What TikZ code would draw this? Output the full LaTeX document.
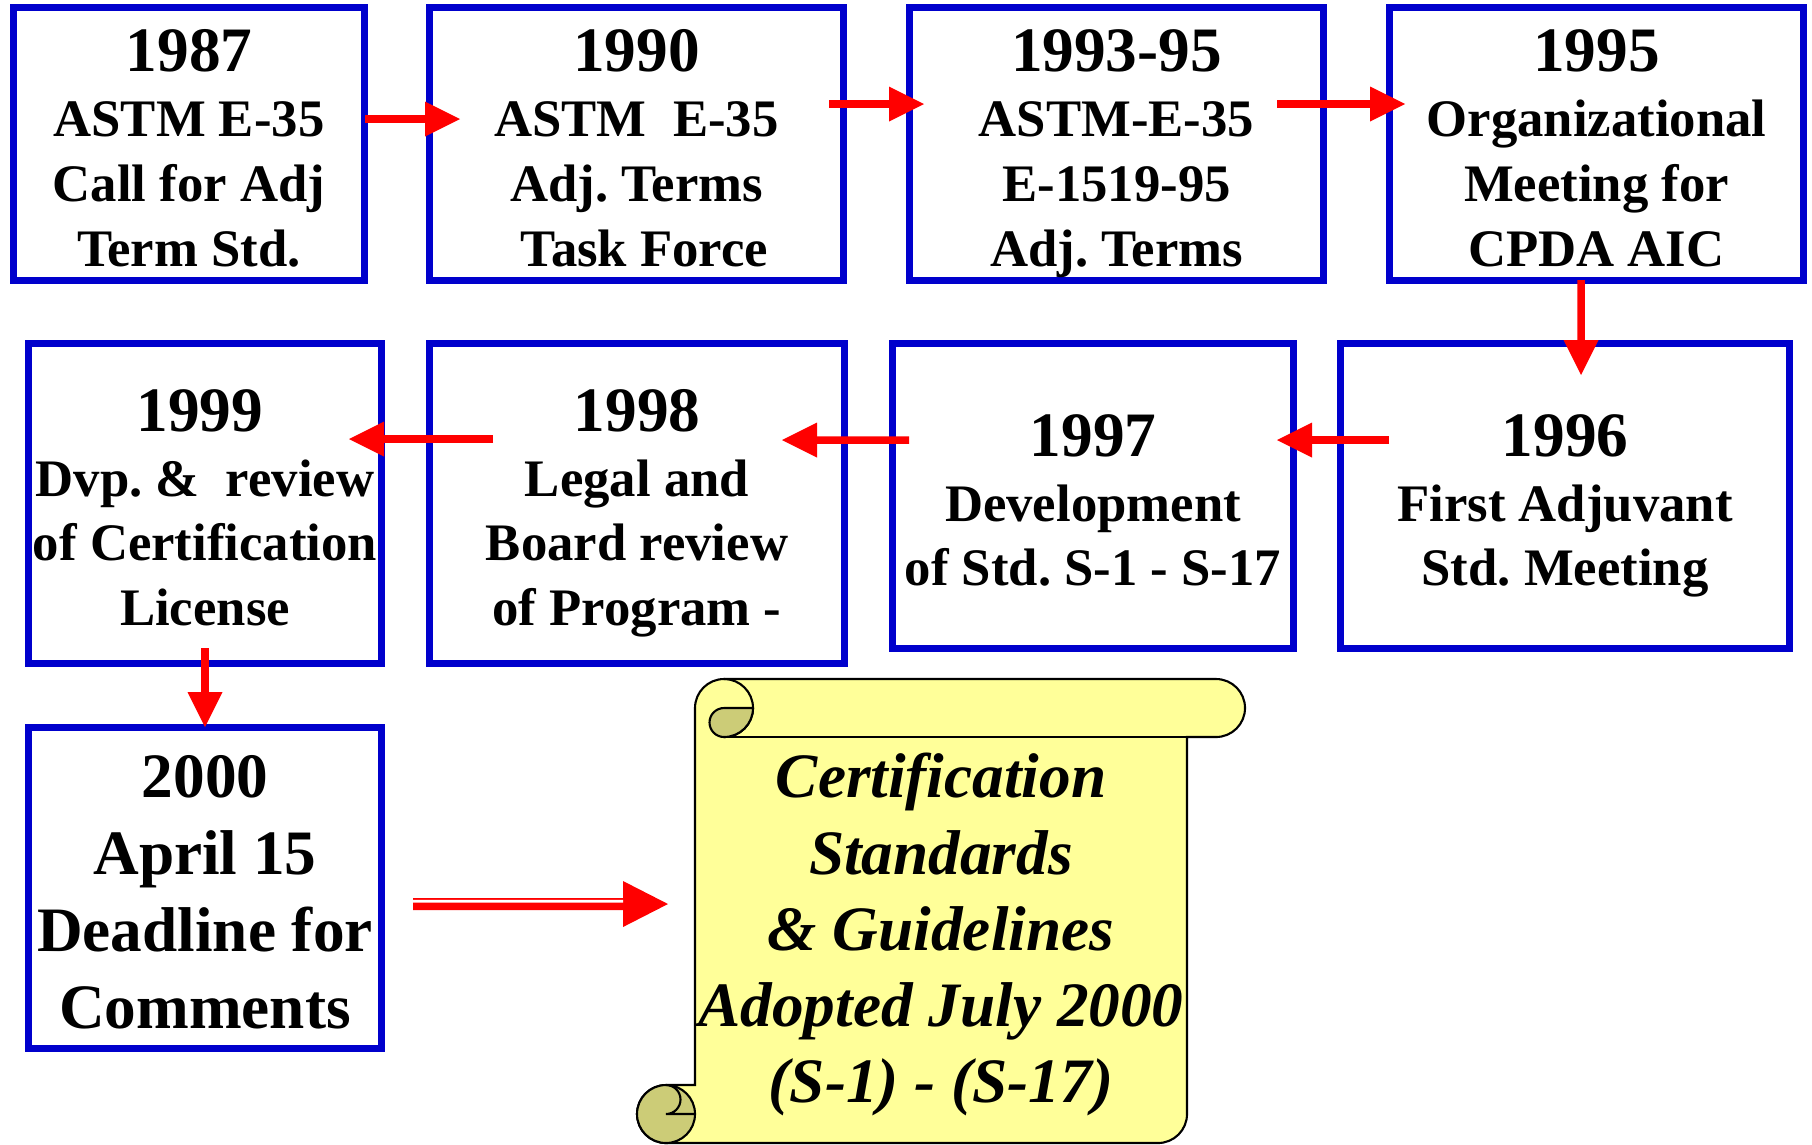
\documentclass[tikz,border=0pt]{standalone}
\usepackage{fontspec}
\setmainfont{Liberation Serif}
\usetikzlibrary{positioning,arrows.meta}

\definecolor{boxblue}{RGB}{0,0,204}
\definecolor{scrollyellow}{RGB}{255,255,153}
\definecolor{curlolive}{RGB}{204,204,119}

\newcommand{\yearfont}{\fontsize{18}{18.43}\selectfont\rule{0pt}{5mm}}
\frenchspacing

\tikzset{
  yearbox/.style={draw=boxblue, line width=0.7mm, align=center, inner sep=0pt, text depth=0pt,
    font=\bfseries\fontsize{15}{18.43}\selectfont},
  flow/.style={draw=red, line width=0.75mm, -{Triangle[length=3.5mm,width=3.5mm,line width=0pt]}},
  scrollpaper/.style={fill=scrollyellow, draw=black, line width=0.6pt},
  scrollcurl/.style={fill=curlolive, draw=black, line width=0.6pt}
}

\begin{document}
\begin{tikzpicture}[x=0.1mm, y=-0.1mm]
\def\ya{144}
\def\yb{503.5}
\def\yc{496}
\def\yd{888}

\useasboundingbox (0,0) rectangle (1812,1144);

\node[yearbox, minimum width=35.1mm, minimum height=27.3mm] (b1987) at (189,\ya)
  {{\yearfont 1987}\\ASTM E-35\\Call for Adj\\Term Std.};
\node[yearbox, minimum width=41.4mm, minimum height=27.3mm] (b1990) at (636.5,\ya)
  {{\yearfont 1990}\\ASTM\ \ E-35\\Adj. Terms\\\hspace*{0.3em}Task Force};
\node[yearbox, minimum width=41.4mm, minimum height=27.3mm] (b1993) at (1116.5,\ya)
  {{\yearfont 1993-95}\\ASTM-E-35\\E-1519-95\\Adj. Terms};
\node[yearbox, minimum width=41.4mm, minimum height=27.3mm] (b1995) at (1596.5,\ya)
  {{\yearfont 1995}\\Organizational\\Meeting for\\CPDA AIC};

\node[yearbox, minimum width=35.3mm, minimum height=32mm] (b1999) at (205,\yb)
  {{\yearfont 1999}\hspace*{0.2em}\\Dvp. \&\ \ review\\of Certification\\License};
\node[yearbox, minimum width=41.5mm, minimum height=32mm] (b1998) at (637,\yb)
  {{\yearfont 1998}\\Legal and\\Board review\\of Program -};
\node[yearbox, minimum width=40.1mm, minimum height=30.5mm] (b1997) at (1093,\yc)
  {{\yearfont 1997}\\Development\\of Std. S-1 - S-17};
\node[yearbox, minimum width=44.9mm, minimum height=30.5mm] (b1996) at (1565,\yc)
  {{\yearfont 1996}\\First Adjuvant\\Std. Meeting};

\node[yearbox, minimum width=35.3mm, minimum height=32.1mm,
  font=\bfseries\fontsize{18}{21.83}\selectfont] (b2000) at (205,\yd)
  {\rule{0pt}{5mm}2000\\April 15\\Deadline for\\Comments};

\filldraw[scrollpaper] (695,708) arc[start angle=180, end angle=270, radius=29]
  -- (1216,679) arc[start angle=270, end angle=450, radius=29]
  -- (1187,737) -- (1187,1114) arc[start angle=0, end angle=90, radius=29]
  -- (666,1143) arc[start angle=90, end angle=270, radius=29]
  -- (695,1085) -- cycle;
\draw[scrollpaper, fill=none] (724,737) -- (1187,737);
\draw[scrollpaper, fill=none] (724,679) arc[start angle=270, end angle=450, radius=29];
\filldraw[scrollcurl] (753,708) -- (724,708) arc[start angle=270, end angle=90, radius=14.5]
  arc[start angle=90, end angle=0, radius=29] -- cycle;
\filldraw[scrollcurl] (666,1114) circle[radius=29];
\draw[scrollpaper, fill=none] (666,1085) arc[start angle=270, end angle=450, radius=14.5] -- (695,1114);

\node[align=center, inner sep=0pt, text depth=0pt,
  font=\bfseries\itshape\fontsize{18}{21.7}\selectfont] (cert) at (941,928)
  {Certification\\Standards\\\& Guidelines\\Adopted July 2000\\(S-1) - (S-17)};
\coordinate (certtip) at (668,904);

\draw[flow] ([xshift=-0.3mm,yshift=2.5mm]b1987.east) -- ([xshift=3.4mm,yshift=2.5mm]b1990.west);
\draw[flow] ([xshift=-1.8mm,yshift=4mm]b1990.east) -- ([xshift=1.8mm,yshift=4mm]b1993.west);
\draw[flow] ([xshift=-5mm,yshift=4mm]b1993.east) -- ([xshift=1.9mm,yshift=4mm]b1995.west);
\draw[flow] ([xshift=-1.55mm,yshift=0.4mm]b1995.south) -- ([xshift=1.6mm,yshift=-3.5mm]b1996.north);
\draw[flow] ([xshift=5.2mm,yshift=5.6mm]b1996.west) -- ([xshift=-2mm,yshift=5.6mm]b1997.east);
\draw[flow] ([xshift=2mm,yshift=5.6mm]b1997.west) -- ([xshift=-6.6mm,yshift=6.35mm]b1998.east);
\draw[flow] ([xshift=6.7mm,yshift=6.45mm]b1998.west) -- ([xshift=-3.6mm,yshift=6.45mm]b1999.east);
\draw[flow] ([yshift=1.9mm]b1999.south) -- ([yshift=-0.3mm]b2000.north);

\draw[flow, line width=1.2mm, -{Triangle[length=4.5mm,width=4.6mm,line width=0pt]}]
  ([xshift=2.8mm,yshift=-1.6mm]b2000.east) -- (certtip);
\draw[white, line width=0.27mm] ([xshift=2.8mm,yshift=-1.33mm]b2000.east) -- ([xshift=-4.5mm,yshift=0.27mm]certtip);

\end{tikzpicture}
\end{document}
